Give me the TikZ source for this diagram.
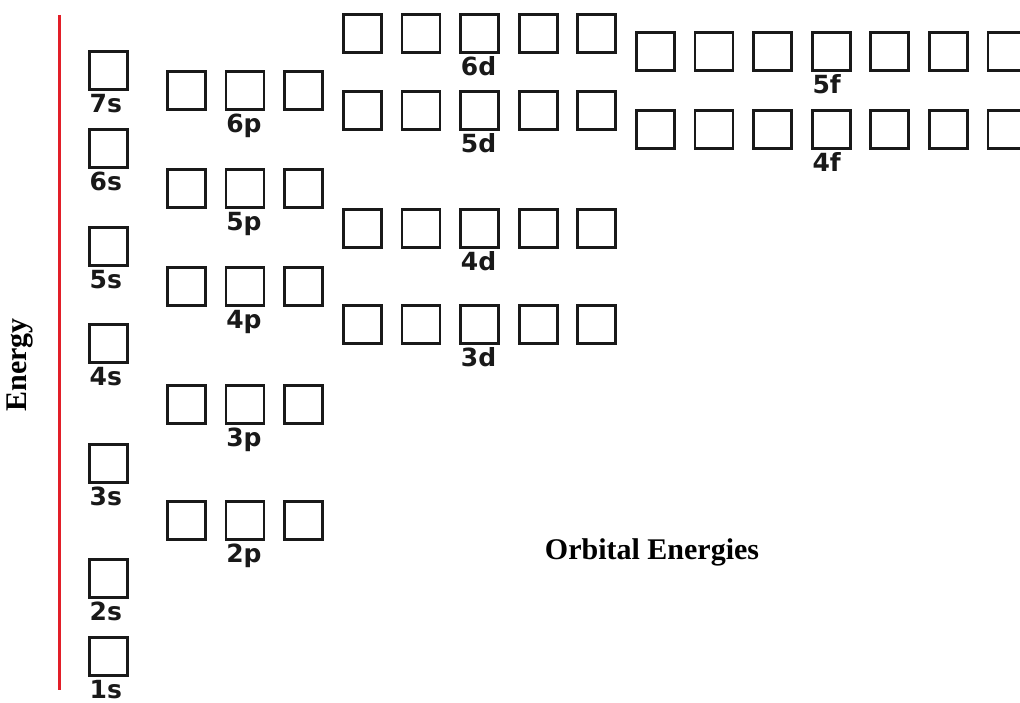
\documentclass[tikz,border=0pt]{standalone}
\usepackage{fontspec}
\newfontfamily\lblfont{DejaVu Sans}
\newfontfamily\titlefont{Liberation Serif}
\definecolor{axisred}{RGB}{226,30,40}
\definecolor{boxline}{RGB}{25,25,25}

% one row of orbital boxes: name, left x, top y, number of boxes
\newcommand\orbrow[4]{%
  \foreach \i in {1,...,#4}{%
    \node[orb] (#1-\i) at ({#2+(\i-1)*58.6},#3) {};
  }%
}

\begin{document}
\begin{tikzpicture}[x=1pt,y=-1pt,
  orb/.style={draw=boxline, line width=2.8pt, minimum size=38pt, inner sep=0pt, anchor=north west},
  lbl/.style={font=\lblfont\bfseries\fontsize{25}{25}\selectfont, text=boxline, inner sep=0pt, anchor=north west},
  ttl/.style={font=\titlefont\bfseries\fontsize{30}{30}\selectfont, inner sep=0pt},
  axis/.style={draw=axisred, line width=3pt}]
\useasboundingbox (0,0) rectangle (1020,703);

% energy axis
\coordinate (etop) at (59,15);
\coordinate (ebot) at (59,690);
\draw[axis] (etop) -- (ebot);
\node[ttl, rotate=90] (energy) at (20,365) {Energy};

% s orbitals
\orbrow{s7}{88}{50}{1}
\orbrow{s6}{88}{128}{1}
\orbrow{s5}{88}{226}{1}
\orbrow{s4}{88}{323}{1}
\orbrow{s3}{88}{443}{1}
\orbrow{s2}{88}{558}{1}
\orbrow{s1}{88}{636}{1}

% p orbitals
\orbrow{p6}{166}{70}{3}
\orbrow{p5}{166}{168}{3}
\orbrow{p4}{166}{266}{3}
\orbrow{p3}{166}{384}{3}
\orbrow{p2}{166}{500}{3}

% d orbitals
\orbrow{d6}{342}{13}{5}
\orbrow{d5}{342}{90}{5}
\orbrow{d4}{342}{208}{5}
\orbrow{d3}{342}{304}{5}

% f orbitals
\orbrow{f5}{635}{31}{7}
\orbrow{f4}{635}{109}{7}

% sublevel labels under the boxes
\foreach \n/\b in {s7-1/7s, s6-1/6s, s5-1/5s, s4-1/4s, s3-1/3s, s2-1/2s, s1-1/1s,
                   p6-2/6p, p5-2/5p, p4-2/4p, p3-2/3p, p2-2/2p,
                   d6-3/6d, d5-3/5d, d4-3/4d, d3-3/3d,
                   f5-4/5f, f4-4/4f}{%
  \node[lbl] (\n-lbl) at ([xshift=1.5pt,yshift=-3pt]\n.south west) {\b};
}

\node[ttl] (title) at (652,552) {Orbital Energies};
\end{tikzpicture}
\end{document}
